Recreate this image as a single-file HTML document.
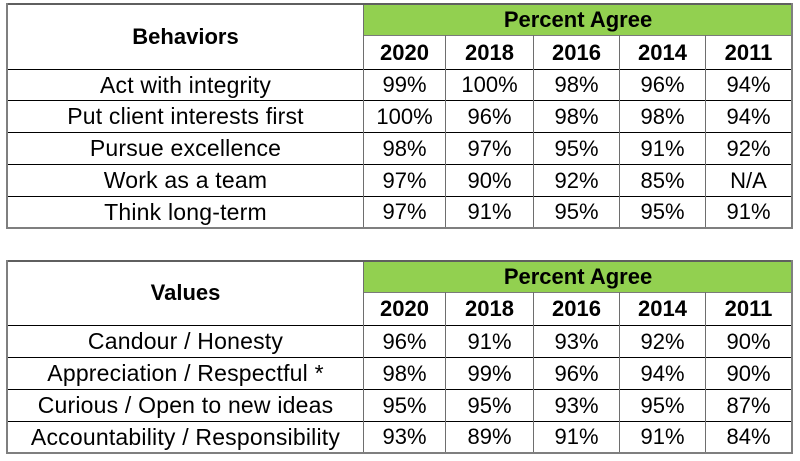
<!DOCTYPE html>
<html>
<head>
<meta charset="utf-8">
<style>
html,body{margin:0;padding:0;background:#fff;}
body{width:800px;height:461px;position:relative;overflow:hidden;font-family:"Liberation Sans",Arial,sans-serif;color:#000;}
.a{position:absolute;}
.g{background:#92D050;}
.h{height:1px;background:#000;}
.hg{height:1px;background:#7a7a7a;}
.v{width:1px;background:#6e6e6e;}
.ob{background:#7f7f7f;}
.c{position:absolute;display:flex;align-items:center;justify-content:center;font-size:22px;white-space:nowrap;}
.b{font-weight:bold;}
.l{letter-spacing:0.2px;font-size:23px;}
</style>
</head>
<body>

<!-- TABLE 1 -->
<div class="a g" style="left:364px;top:4px;width:428px;height:31px;"></div>
<div class="a hg" style="left:364px;top:35px;width:428px;"></div>
<div class="a h" style="left:7px;top:69px;width:785px;"></div>
<div class="a h" style="left:7px;top:100px;width:785px;"></div>
<div class="a h" style="left:7px;top:132px;width:785px;"></div>
<div class="a h" style="left:7px;top:164px;width:785px;"></div>
<div class="a h" style="left:7px;top:196px;width:785px;"></div>
<div class="a v" style="left:363px;top:3px;height:226px;"></div>
<div class="a v" style="left:445px;top:35px;height:194px;"></div>
<div class="a v" style="left:533px;top:35px;height:194px;"></div>
<div class="a v" style="left:619px;top:35px;height:194px;"></div>
<div class="a v" style="left:705px;top:35px;height:194px;"></div>
<!-- outer -->
<div class="a" style="left:6px;top:3px;width:787px;height:2px;background:#5f5f5f;"></div>
<div class="a ob" style="left:6px;top:227px;width:787px;height:2px;"></div>
<div class="a ob" style="left:6px;top:3px;width:2px;height:226px;"></div>
<div class="a ob" style="left:791px;top:3px;width:2px;height:226px;"></div>

<div class="c b" style="left:8px;top:4px;width:355px;height:65px;">Behaviors</div>
<div class="c b" style="left:364px;top:4px;width:428px;height:31px;">Percent Agree</div>
<div class="c b" style="left:364px;top:36px;width:81px;height:33px;">2020</div>
<div class="c b" style="left:446px;top:36px;width:87px;height:33px;">2018</div>
<div class="c b" style="left:534px;top:36px;width:85px;height:33px;">2016</div>
<div class="c b" style="left:620px;top:36px;width:85px;height:33px;">2014</div>
<div class="c b" style="left:706px;top:36px;width:85px;height:33px;">2011</div>

<div class="c l" style="left:8px;top:70px;width:355px;height:30px;">Act with integrity</div>
<div class="c" style="left:364px;top:70px;width:81px;height:30px;">99%</div>
<div class="c" style="left:446px;top:70px;width:87px;height:30px;">100%</div>
<div class="c" style="left:534px;top:70px;width:85px;height:30px;">98%</div>
<div class="c" style="left:620px;top:70px;width:85px;height:30px;">96%</div>
<div class="c" style="left:706px;top:70px;width:85px;height:30px;">94%</div>

<div class="c l" style="left:8px;top:101px;width:355px;height:31px;">Put client interests first</div>
<div class="c" style="left:364px;top:101px;width:81px;height:31px;">100%</div>
<div class="c" style="left:446px;top:101px;width:87px;height:31px;">96%</div>
<div class="c" style="left:534px;top:101px;width:85px;height:31px;">98%</div>
<div class="c" style="left:620px;top:101px;width:85px;height:31px;">98%</div>
<div class="c" style="left:706px;top:101px;width:85px;height:31px;">94%</div>

<div class="c l" style="left:8px;top:133px;width:355px;height:31px;">Pursue excellence</div>
<div class="c" style="left:364px;top:133px;width:81px;height:31px;">98%</div>
<div class="c" style="left:446px;top:133px;width:87px;height:31px;">97%</div>
<div class="c" style="left:534px;top:133px;width:85px;height:31px;">95%</div>
<div class="c" style="left:620px;top:133px;width:85px;height:31px;">91%</div>
<div class="c" style="left:706px;top:133px;width:85px;height:31px;">92%</div>

<div class="c l" style="left:8px;top:165px;width:355px;height:31px;">Work as a team</div>
<div class="c" style="left:364px;top:165px;width:81px;height:31px;">97%</div>
<div class="c" style="left:446px;top:165px;width:87px;height:31px;">90%</div>
<div class="c" style="left:534px;top:165px;width:85px;height:31px;">92%</div>
<div class="c" style="left:620px;top:165px;width:85px;height:31px;">85%</div>
<div class="c" style="left:706px;top:165px;width:85px;height:31px;">N/A</div>

<div class="c l" style="left:8px;top:197px;width:355px;height:30px;">Think long-term</div>
<div class="c" style="left:364px;top:197px;width:81px;height:30px;">97%</div>
<div class="c" style="left:446px;top:197px;width:87px;height:30px;">91%</div>
<div class="c" style="left:534px;top:197px;width:85px;height:30px;">95%</div>
<div class="c" style="left:620px;top:197px;width:85px;height:30px;">95%</div>
<div class="c" style="left:706px;top:197px;width:85px;height:30px;">91%</div>

<!-- TABLE 2 -->
<div class="a g" style="left:364px;top:261px;width:428px;height:31px;"></div>
<div class="a hg" style="left:364px;top:292px;width:428px;"></div>
<div class="a h" style="left:7px;top:325px;width:785px;"></div>
<div class="a h" style="left:7px;top:357px;width:785px;"></div>
<div class="a h" style="left:7px;top:389px;width:785px;"></div>
<div class="a h" style="left:7px;top:421px;width:785px;"></div>
<div class="a v" style="left:363px;top:260px;height:194px;"></div>
<div class="a v" style="left:445px;top:292px;height:162px;"></div>
<div class="a v" style="left:533px;top:292px;height:162px;"></div>
<div class="a v" style="left:619px;top:292px;height:162px;"></div>
<div class="a v" style="left:705px;top:292px;height:162px;"></div>
<!-- outer -->
<div class="a" style="left:6px;top:260px;width:787px;height:2px;background:#5f5f5f;"></div>
<div class="a ob" style="left:6px;top:452px;width:787px;height:2px;"></div>
<div class="a ob" style="left:6px;top:260px;width:2px;height:194px;"></div>
<div class="a ob" style="left:791px;top:260px;width:2px;height:194px;"></div>

<div class="c b" style="left:8px;top:261px;width:355px;height:64px;">Values</div>
<div class="c b" style="left:364px;top:261px;width:428px;height:31px;">Percent Agree</div>
<div class="c b" style="left:364px;top:293px;width:81px;height:32px;">2020</div>
<div class="c b" style="left:446px;top:293px;width:87px;height:32px;">2018</div>
<div class="c b" style="left:534px;top:293px;width:85px;height:32px;">2016</div>
<div class="c b" style="left:620px;top:293px;width:85px;height:32px;">2014</div>
<div class="c b" style="left:706px;top:293px;width:85px;height:32px;">2011</div>

<div class="c l" style="left:8px;top:326px;width:355px;height:31px;">Candour / Honesty</div>
<div class="c" style="left:364px;top:326px;width:81px;height:31px;">96%</div>
<div class="c" style="left:446px;top:326px;width:87px;height:31px;">91%</div>
<div class="c" style="left:534px;top:326px;width:85px;height:31px;">93%</div>
<div class="c" style="left:620px;top:326px;width:85px;height:31px;">92%</div>
<div class="c" style="left:706px;top:326px;width:85px;height:31px;">90%</div>

<div class="c l" style="left:8px;top:358px;width:355px;height:31px;">Appreciation / Respectful *</div>
<div class="c" style="left:364px;top:358px;width:81px;height:31px;">98%</div>
<div class="c" style="left:446px;top:358px;width:87px;height:31px;">99%</div>
<div class="c" style="left:534px;top:358px;width:85px;height:31px;">96%</div>
<div class="c" style="left:620px;top:358px;width:85px;height:31px;">94%</div>
<div class="c" style="left:706px;top:358px;width:85px;height:31px;">90%</div>

<div class="c l" style="left:8px;top:390px;width:355px;height:31px;">Curious / Open to new ideas</div>
<div class="c" style="left:364px;top:390px;width:81px;height:31px;">95%</div>
<div class="c" style="left:446px;top:390px;width:87px;height:31px;">95%</div>
<div class="c" style="left:534px;top:390px;width:85px;height:31px;">93%</div>
<div class="c" style="left:620px;top:390px;width:85px;height:31px;">95%</div>
<div class="c" style="left:706px;top:390px;width:85px;height:31px;">87%</div>

<div class="c l" style="left:8px;top:422px;width:355px;height:30px;">Accountability / Responsibility</div>
<div class="c" style="left:364px;top:422px;width:81px;height:30px;">93%</div>
<div class="c" style="left:446px;top:422px;width:87px;height:30px;">89%</div>
<div class="c" style="left:534px;top:422px;width:85px;height:30px;">91%</div>
<div class="c" style="left:620px;top:422px;width:85px;height:30px;">91%</div>
<div class="c" style="left:706px;top:422px;width:85px;height:30px;">84%</div>

</body>
</html>
